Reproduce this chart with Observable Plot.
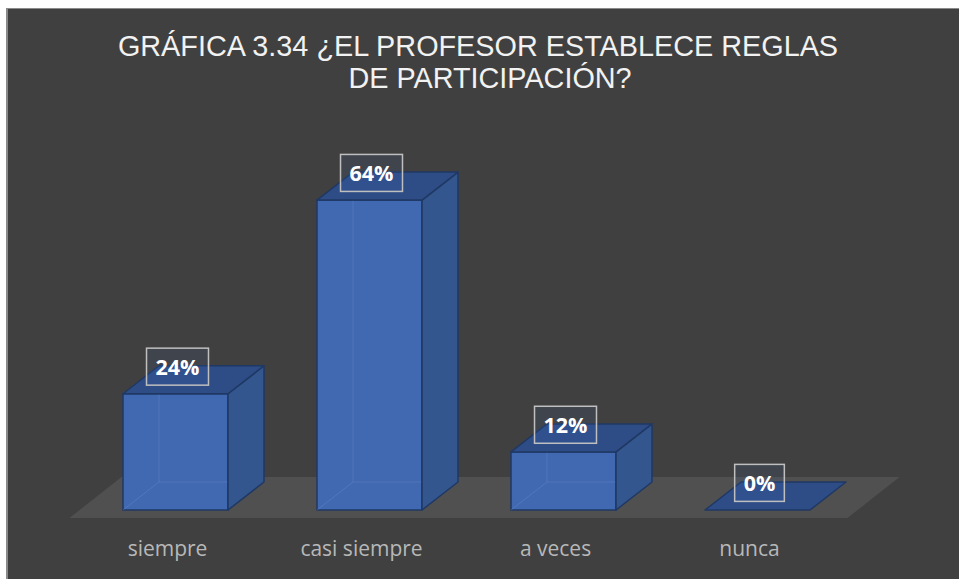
<!DOCTYPE html>
<html>
<head>
<meta charset="utf-8">
<script src="https://cdn.jsdelivr.net/npm/d3@7"></script>
<script src="https://cdn.jsdelivr.net/npm/@observablehq/plot@0.6"></script>
<style>
  html, body { margin: 0; padding: 0; background: #ffffff; }
  #page { position: relative; width: 959px; height: 579px; overflow: hidden; }
  #bg { position: absolute; left: 6px; top: 8px; width: 953px; height: 571px; background: #404040;
        border-left: 2px solid #8a8a8a; border-top: 1px solid #8a8a8a; box-sizing: border-box; }
  .title { position: absolute; left: 0; font-family: "Liberation Sans", Arial, sans-serif; font-size: 28.8px;
           line-height: 32px; color: #f2f2f2; text-align: center; white-space: nowrap; }
  #chart { position: absolute; left: 0; top: 0; }
</style>
</head>
<body>
<div id="page">
  <div id="bg"></div>
  <div class="title" id="t1" style="top:30px; width:956px;">GRÁFICA 3.34 ¿EL PROFESOR ESTABLECE REGLAS</div>
  <div class="title" id="t2" style="top:62px; width:980px;">DE PARTICIPACIÓN?</div>
  <div id="chart"></div>
</div>
<script>
const categories = ["siempre", "casi siempre", "a veces", "nunca"];
const values = [24, 64, 12, 0];
const valueLabels = ["24%", "64%", "12%", "0%"];

const data = categories.map((c, i) => ({cat: c, value: values[i], label: valueLabels[i]}));

const DEPTH_X = 36, DEPTH_Y = -28;
const FRONT = "#4169b1", TOP = "#2e4d87", SIDE = "#34568f", EDGE = "#1f3864";

function rectGeom(g) {
  return Array.from(g.querySelectorAll("rect")).map(r => ({
    x: +r.getAttribute("x"), y: +r.getAttribute("y"),
    w: +r.getAttribute("width"), h: +r.getAttribute("height")
  }));
}

function floorRender(index, scales, vals, dims, context, next) {
  const g = next(index, scales, vals, dims, context);
  const rs = rectGeom(g);
  g.querySelectorAll("rect").forEach(r => r.remove());
  const base = rs[0].y + rs[0].h;
  const left = rs[0].x + DEPTH_X / 2 - 45.5;
  const right = rs[rs.length - 1].x + rs[rs.length - 1].w + DEPTH_X / 2 + 45.5;
  const midY = base - 12.5;
  const hx = 26, hy = 20.5;
  const pts = [[left - hx, midY + hy], [right - hx, midY + hy], [right + hx, midY - hy], [left + hx, midY - hy]];
  d3.select(g).append("path").attr("d", "M" + pts.join("L") + "Z").attr("fill", "#505050");
  return g;
}

function bar3dRender(index, scales, vals, dims, context, next) {
  const g = next(index, scales, vals, dims, context);
  const rs = rectGeom(g);
  const sel = d3.select(g);
  rs.forEach(({x, y, w, h}) => {
    const x1 = x + w, yb = y + h;
    if (h > 0) {
      sel.append("path")
        .attr("d", `M${x + DEPTH_X},${y + DEPTH_Y}L${x + DEPTH_X},${yb + DEPTH_Y}L${x1 + DEPTH_X},${yb + DEPTH_Y}M${x},${yb}L${x + DEPTH_X},${yb + DEPTH_Y}`)
        .attr("fill", "none").attr("stroke", "rgba(110,145,210,0.35)").attr("stroke-width", 1);
      sel.append("path")
        .attr("d", `M${x1},${y}L${x1 + DEPTH_X},${y + DEPTH_Y}L${x1 + DEPTH_X},${yb + DEPTH_Y}L${x1},${yb}Z`)
        .attr("fill", SIDE).attr("stroke", EDGE).attr("stroke-width", 1.5).attr("stroke-linejoin", "round");
    }
    sel.append("path")
      .attr("d", `M${x},${y}L${x1},${y}L${x1 + DEPTH_X},${y + DEPTH_Y}L${x + DEPTH_X},${y + DEPTH_Y}Z`)
      .attr("fill", TOP).attr("stroke", EDGE).attr("stroke-width", 1.5).attr("stroke-linejoin", "round");
  });
  return g;
}

const chart = Plot.plot({
  width: 959,
  height: 579,
  marginLeft: 32.5,
  marginRight: 59,
  marginTop: 171,
  marginBottom: 69,
  style: {background: "transparent", overflow: "visible"},
  x: {type: "band", domain: categories, paddingInner: 0.46, paddingOuter: 0.46, axis: null},
  y: {domain: [0, 70], axis: null},
  marks: [
    Plot.barY(data, {x: "cat", y: "value", render: floorRender}),
    Plot.barY(data, {x: "cat", y: "value", fill: FRONT, stroke: EDGE, strokeWidth: 1.5, render: bar3dRender}),
    Plot.text(data, {x: "cat", text: "cat", frameAnchor: "bottom", dy: 45, dx: -8.5,
      fill: "#b8b8b8", fontSize: 21, fontFamily: "'Open Sans', sans-serif"}),
    Plot.text(data, {x: "cat", y: "value", text: "label", dx: 1.5, dy: -26, fill: "#ffffff",
      fontSize: 21.5, fontWeight: "bold", fontFamily: "'Open Sans', sans-serif", className: "vlabel"})
  ]
});

document.getElementById("chart").appendChild(chart);

d3.select(chart).selectAll("g.vlabel text").each(function () {
  const b = this.getBBox();
  const cx = b.x + b.width / 2, cy = b.y + b.height / 2;
  const w = b.width + 18, h = 37;
  d3.select(this.parentNode).insert("rect", () => this)
    .attr("x", cx - w / 2).attr("y", cy - h / 2).attr("width", w).attr("height", h)
    .attr("fill", "rgba(68,114,196,0.10)").attr("stroke", "#bfbfbf").attr("stroke-width", 1.5)
    .attr("transform", this.getAttribute("transform"));
});
</script>
</body>
</html>
